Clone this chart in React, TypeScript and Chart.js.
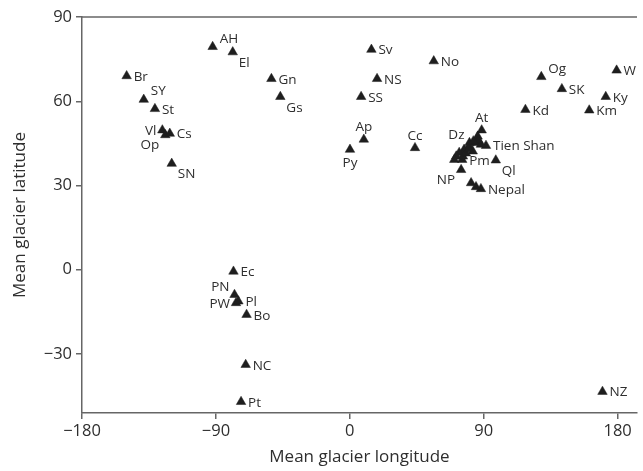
import { useEffect, useRef } from "react";
import { Chart, registerables } from "chart.js";

Chart.register(...registerables);

// Glacier regions: name, mean longitude, mean latitude, label side
const regionNames = [
  "Br", "SY", "St", "Vl", "Op", "Cs", "SN", "AH", "El", "Gn", "Gs",
  "Sv", "NS", "SS", "Ap", "Py", "Cc", "No", "Og", "SK", "W", "Ky", "Kd", "Km",
  "At", "Dz", "Tien Shan", "Pm", "NP", "Ql", "Nepal",
  "Ec", "PN", "PW", "Pl", "Bo", "NC", "Pt", "NZ",
  "", "", "", "", "", "", "", "", "", "", "", "", "", "", "", "",
];
const longitudes = [
  -150, -138.5, -131, -126, -124, -121, -119.7, -92.2, -78.7, -52.7, -46.7,
  14.5, 18.3, 7.6, 9.4, 0.1, 43.8, 56.4, 128.7, 142.5, 179.3, 172, 118, 160.9,
  88.6, 80.4, 91.5, 75.5, 74.8, 98.1, 88.1,
  -78.2, -77.5, -76.5, -74.9, -69.4, -70, -73.1, 169.8,
  84.8, 80.1, 76.8, 73.5, 71.5, 70.2, 76, 82.6, 88.1, 85.9, 81.5, 84.8, 78, 80, 86.5, 83,
];
const latitudes = [
  69, 60.6, 57.3, 49.7, 48, 48.5, 37.8, 79.4, 77.5, 68, 61.6,
  78.4, 68, 61.6, 46.4, 42.8, 43.4, 74.3, 68.7, 64.4, 71, 61.6, 57, 56.8,
  49.7, 45.2, 44.2, 39.2, 35.6, 39, 28.8,
  -0.6, -8.9, -11.8, -11.2, -16, -33.8, -47, -43.4,
  45.2, 44, 42.8, 41.7, 40.4, 39.2, 40.4, 42.2, 44.6, 47.5, 30.9, 29.5, 41.5, 43, 46, 45.8,
];
const labelSides = [
  "r", "ar", "r", "l", "bl", "r", "br", "ar", "br", "r", "br",
  "r", "r", "r", "a", "b", "a", "r", "ar", "r", "r", "r", "r", "r",
  "a", "al", "r", "r", "bl", "br", "r",
  "r", "al", "l", "r", "r", "r", "r", "r",
  "r", "r", "r", "r", "r", "r", "r", "r", "r", "r", "r", "r", "r", "r", "r", "r",
];

const xTickValues = [-180, -90, 0, 90, 180];
const yTickValues = [-30, 0, 30, 60, 90];
const xRange = [-180, 193];
const yRange = [-51, 90];

const FONT = "'Open Sans', 'Noto Sans', sans-serif";
const AXIS_COLOR = "#666666";
const TEXT_COLOR = "#2e2e2e";

const sideOffsets: Record<string, { dx: number; dy: number; align: CanvasTextAlign }> = {
  r: { dx: 7, dy: 1, align: "left" },
  l: { dx: -6, dy: 1, align: "right" },
  a: { dx: 0, dy: -12, align: "center" },
  b: { dx: 0, dy: 14, align: "center" },
  ar: { dx: 7, dy: -8, align: "left" },
  br: { dx: 6, dy: 11, align: "left" },
  al: { dx: -5, dy: -8, align: "right" },
  bl: { dx: -6, dy: 10, align: "right" },
};

const fmt = (v: number) => (v < 0 ? "\u2212" + Math.abs(v) : String(v));

const pointLabelPlugin = {
  id: "pointLabels",
  afterDatasetsDraw(chart: any) {
    const { ctx, chartArea } = chart;
    const meta = chart.getDatasetMeta(0);
    ctx.save();
    // top frame line
    ctx.strokeStyle = AXIS_COLOR;
    ctx.lineWidth = 1.5;
    ctx.beginPath();
    ctx.moveTo(chartArea.left, chartArea.top);
    ctx.lineTo(chartArea.right, chartArea.top);
    ctx.stroke();

    ctx.font = `13.5px ${FONT}`;
    ctx.fillStyle = TEXT_COLOR;
    ctx.textBaseline = "middle";
    meta.data.forEach((el: any, i: number) => {
      const name = regionNames[i];
      if (!name) return;
      const o = sideOffsets[labelSides[i]] || sideOffsets.r;
      ctx.textAlign = o.align;
      ctx.fillText(name, el.x + o.dx, el.y + o.dy);
    });
    ctx.restore();
  },
};

export default function App() {
  const ref = useRef<HTMLCanvasElement | null>(null);

  useEffect(() => {
    document.body.style.margin = "0";
    const canvas = ref.current;
    if (!canvas) return;
    const data = longitudes.map((x, i) => ({ x, y: latitudes[i] }));
    const chart = new Chart(canvas, {
      type: "scatter",
      data: {
        datasets: [
          {
            data,
            pointStyle: "triangle",
            pointRadius: 5.5,
            pointHoverRadius: 5.5,
            backgroundColor: "#1e1e1e",
            borderColor: "#1e1e1e",
            borderWidth: 0.5,
          },
        ],
      },
      options: {
        animation: false,
        responsive: false,
        events: [],
        layout: { padding: { top: 17, right: 0, left: 0, bottom: 0 } },
        plugins: {
          legend: { display: false },
          tooltip: { enabled: false },
        },
        scales: {
          x: {
            type: "linear",
            min: xRange[0],
            max: xRange[1],
            afterBuildTicks: (scale: any) => {
              scale.ticks = xTickValues.map((value) => ({ value }));
            },
            afterFit: (scale: any) => {
              scale.height = 58;
            },
            grid: {
              display: true,
              drawOnChartArea: false,
              drawTicks: true,
              tickLength: 6,
              color: AXIS_COLOR,
              lineWidth: 1.5,
            },
            border: { display: true, color: AXIS_COLOR, width: 1.5 },
            ticks: {
              color: TEXT_COLOR,
              font: { family: FONT, size: 16.5 },
              padding: 2,
              maxRotation: 0,
              callback: (v: any) => fmt(Number(v)),
            },
            title: {
              display: true,
              text: "Mean glacier longitude",
              color: TEXT_COLOR,
              font: { family: FONT, size: 17 },
              padding: { top: 0, bottom: 4 },
            },
          },
          y: {
            type: "linear",
            min: yRange[0],
            max: yRange[1],
            afterBuildTicks: (scale: any) => {
              scale.ticks = yTickValues.map((value) => ({ value }));
            },
            afterFit: (scale: any) => {
              scale.width = 82;
            },
            grid: {
              display: true,
              drawOnChartArea: false,
              drawTicks: true,
              tickLength: 6,
              color: AXIS_COLOR,
              lineWidth: 1.5,
            },
            border: { display: true, color: AXIS_COLOR, width: 1.5 },
            ticks: {
              color: TEXT_COLOR,
              font: { family: FONT, size: 16.5 },
              padding: 4,
              callback: (v: any) => fmt(Number(v)),
            },
            title: {
              display: true,
              text: "Mean glacier latitude",
              color: TEXT_COLOR,
              font: { family: FONT, size: 17 },
              padding: { top: 10, bottom: 0 },
            },
          },
        },
      },
      plugins: [pointLabelPlugin],
    });
    return () => chart.destroy();
  }, []);

  return (
    <canvas
      ref={ref}
      width={643}
      height={471}
      style={{ display: "block", width: 643, height: 471 }}
    />
  );
}
